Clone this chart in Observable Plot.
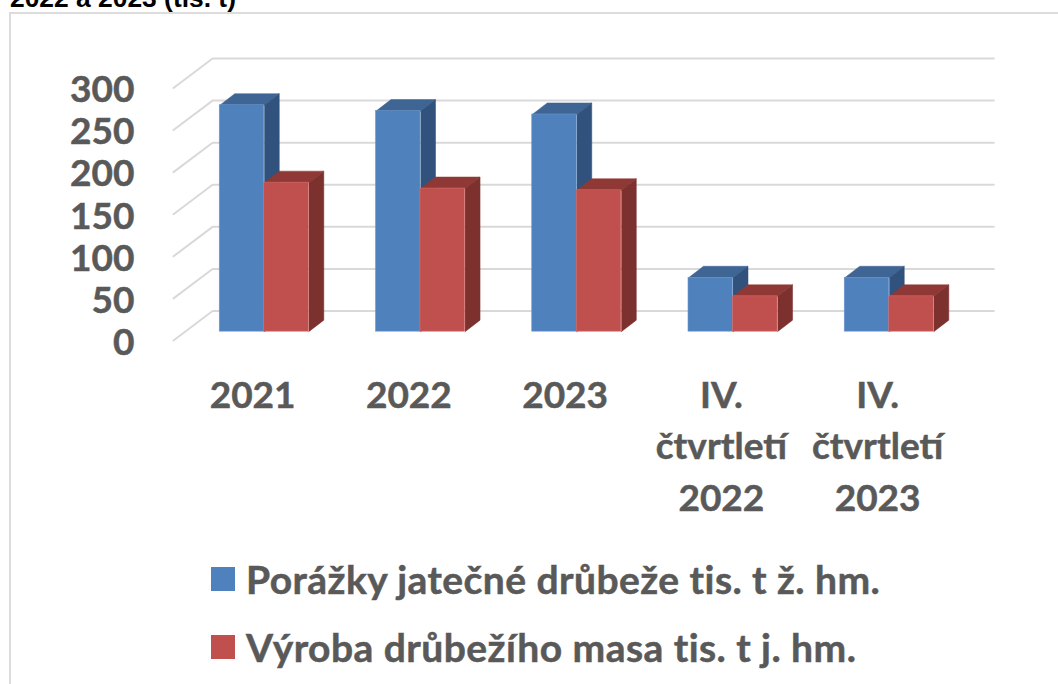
<!DOCTYPE html>
<html lang="cs"><head><meta charset="utf-8">
<script src="https://cdn.jsdelivr.net/npm/d3@7"></script>
<script src="https://cdn.jsdelivr.net/npm/@observablehq/plot@0.6"></script>
<style>
html,body{margin:0;padding:0;background:#fff;overflow:hidden;width:1058px;height:684px}
#page{position:relative;width:1058px;height:684px;overflow:hidden;font-family:Lato,sans-serif}
#frame{position:absolute;left:9px;top:12px;width:1100px;height:800px;border:2px solid #dcdcdc;box-sizing:border-box}
#title{position:absolute;left:10px;top:-17px;font:bold 26.4px "Liberation Sans",Arial,sans-serif;color:#000;white-space:nowrap}
#chart{position:absolute;left:0;top:0}
#chart svg text{stroke:#595959;stroke-width:0.5px}
.lg{position:absolute;left:211px;display:flex;align-items:center;font-weight:700;font-size:39px;letter-spacing:0.45px;-webkit-text-stroke:0.5px #595959;color:#595959;white-space:nowrap;line-height:24px;height:24px}
.lg i{display:block;width:24px;height:24px;margin-right:11px}
</style></head><body>
<div id="page"><div id="frame"></div><div id="title">2022 a 2023 (tis. t)</div><div id="chart"></div><div id="legend"></div></div>
<script>
const categories = ["2021","2022","2023","IV.\nčtvrtletí\n2022","IV.\nčtvrtletí\n2023"];
const slaughter = [269,262,258,64,64];
const meat = [177,170,168,42,42];
const yTicks = [0,50,100,150,200,250,300];
const seriesNames = ["Porážky jatečné drůbeže tis. t ž. hm.","Výroba drůbežího masa tis. t j. hm."];
const blue = {front:"#4f81bd",side:"#31527d",top:"#3e6593",edge:"#6d98cc"};
const red = {front:"#c0504d",side:"#7d312f",top:"#8f3836",edge:"#d06a67"};

// oblique projection: floor depth shifts both x and y
const wallDX = 0.25, wallDY = 35;
const barDX = 0.096, barDY = 13.7, barW = 0.285, barX = 0.296, baseY = 10.5;

function bars(values, offset){
  return values.map((v,i)=>({id:i,x1:i+barX+offset,x2:i+barX+offset+barW,y1:baseY,y2:baseY+v}));
}
const side = bs => bs.flatMap(b=>[[b.x2,b.y1],[b.x2+barDX,b.y1+barDY],[b.x2+barDX,b.y2+barDY],[b.x2,b.y2]].map(p=>({id:b.id,x:p[0],y:p[1]})));
const top_ = bs => bs.flatMap(b=>[[b.x1,b.y2],[b.x1+barDX,b.y2+barDY],[b.x2+barDX,b.y2+barDY],[b.x2,b.y2]].map(p=>({id:b.id,x:p[0],y:p[1]})));
const grid = yTicks.flatMap(t=>[[0,t],[wallDX,t+wallDY],[categories.length+wallDX,t+wallDY]].map(p=>({t,x:p[0],y:p[1]})));

const bb = bars(slaughter,0), rb = bars(meat,barW);
const faces = (bs,c)=>[
  Plot.line(top_(bs),{x:"x",y:"y",z:"id",fill:c.top,stroke:c.top,strokeWidth:0.5}),
  Plot.line(side(bs),{x:"x",y:"y",z:"id",fill:c.side,stroke:c.side,strokeWidth:0.5}),
  Plot.rect(bs,{x1:"x1",x2:"x2",y1:"y1",y2:"y2",fill:c.front,stroke:c.edge,strokeWidth:0.6})
];
const plot = Plot.plot({
  width:1058,height:535,
  marginLeft:173,marginRight:64.7,marginTop:58,marginBottom:195,
  style:{fontFamily:"Lato, sans-serif",background:"transparent"},
  x:{domain:[0,categories.length+wallDX],axis:null},
  y:{domain:[0,335],axis:null},
  marks:[
    Plot.line(grid,{x:"x",y:"y",z:"t",stroke:"#d9d9d9",strokeWidth:2}),
    ...faces(bb,blue),
    ...faces(rb,red),
    Plot.axisY(yTicks,{anchor:"left",tickSize:0,tickPadding:39,dy:2.5,fontSize:37,fontWeight:700,fill:"#595959",label:null}),
    Plot.axisX(categories.map((_,i)=>i+0.5),{anchor:"bottom",tickSize:0,tickPadding:31,dx:1,fontSize:37,fontWeight:700,fill:"#595959",label:null,lineHeight:1.39,tickFormat:v=>categories[Math.round(v-0.5)]})
  ]
});
document.getElementById("chart").append(plot);
const legend = document.getElementById("legend");
[[seriesNames[0],blue.front,567],[seriesNames[1],red.front,635]].forEach(([n,c,y])=>{
  const d=document.createElement("div");d.className="lg";d.style.top=y+"px";
  const s=document.createElement("i");s.style.background=c;d.append(s,document.createTextNode(n));legend.append(d);
});
</script></body></html>
